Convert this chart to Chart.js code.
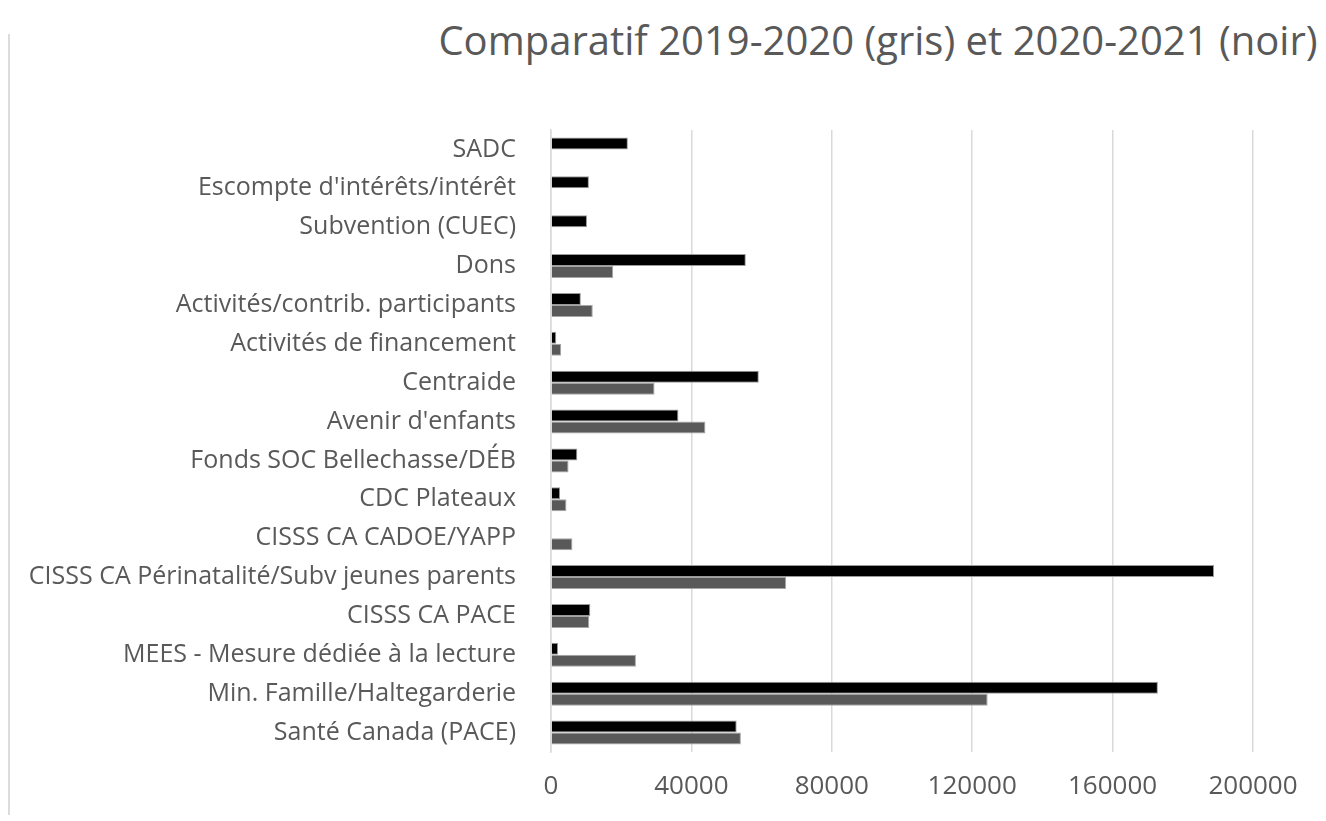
<!DOCTYPE html>
<html lang="fr">
<head>
<meta charset="utf-8">
<script src="https://cdn.jsdelivr.net/npm/chart.js@4/dist/chart.umd.min.js"></script>
<style>
  html, body { margin: 0; padding: 0; background: #fff; }
  #wrap { position: relative; width: 1326px; height: 821px; overflow: hidden; }
  #cadre { position: absolute; left: 8px; top: 34px; bottom: 6px; border-left: 2px solid #dcdcdc; }
  #titre {
    position: absolute; left: 378px; width: 1000px; top: 12px;
    text-align: center; font-family: "Open Sans", sans-serif; font-size: 40px;
    color: #595959; white-space: nowrap;
  }
  #chartBox { position: absolute; left: 0; top: 0; width: 1326px; height: 821px; }
</style>
</head>
<body>
<div id="wrap">
  <div id="cadre"></div>
  <div id="titre">Comparatif 2019-2020 (gris) et 2020-2021 (noir)</div>
  <div id="chartBox"><canvas id="graphique"></canvas></div>
</div>
<script>
// Catégories (de haut en bas)
const categories = [
  "SADC",
  "Escompte d'intérêts/intérêt",
  "Subvention (CUEC)",
  "Dons",
  "Activités/contrib. participants",
  "Activités de financement",
  "Centraide",
  "Avenir d'enfants",
  "Fonds SOC Bellechasse/DÉB",
  "CDC Plateaux",
  "CISSS CA CADOE/YAPP",
  "CISSS CA Périnatalité/Subv jeunes parents",
  "CISSS CA PACE",
  "MEES - Mesure dédiée à la lecture",
  "Min. Famille/Haltegarderie",
  "Santé Canada (PACE)"
];

// 2020-2021 (noir)
const valeurs2021 = [21900, 10800, 10250, 55500, 8500, 1500, 59200, 36300, 7500, 2600, 0, 188900, 11200, 2000, 172900, 52900];

// 2019-2020 (gris)
const valeurs2020 = [0, 0, 0, 17700, 11900, 2900, 29500, 44000, 5000, 4400, 6100, 67000, 10900, 24200, 124400, 54100];

const ticksX = [0, 40000, 80000, 120000, 160000, 200000];

const police = "'Open Sans', sans-serif";

const ctx = document.getElementById("graphique");

new Chart(ctx, {
  type: "bar",
  data: {
    labels: categories,
    datasets: [
      {
        label: "2020-2021",
        data: valeurs2021,
        backgroundColor: "#000000",
        borderColor: "#9a9a9a",
        borderWidth: 1,
        categoryPercentage: 0.62,
        barPercentage: 1.0,
      },
      {
        label: "2019-2020",
        data: valeurs2020,
        backgroundColor: "#595959",
        borderColor: "#a6a6a6",
        borderWidth: 1,
        categoryPercentage: 0.62,
        barPercentage: 1.0,
      },
    ],
  },
  options: {
    indexAxis: "y",
    responsive: true,
    maintainAspectRatio: false,
    animation: false,
    layout: { padding: { top: 130, right: 73, left: 0, bottom: 0 } },
    plugins: {
      legend: { display: false },
      title: { display: false },
      tooltip: { enabled: false },
    },
    scales: {
      x: {
        min: 0,
        max: 200000,
        afterBuildTicks: (scale) => {
          scale.ticks = ticksX.map((v) => ({ value: v }));
        },
        afterFit: (scale) => { scale.height = 69; },
        grid: { color: "#d9d9d9", lineWidth: 1.5, drawTicks: false },
        border: { display: false },
        ticks: {
          color: "#595959",
          font: { family: police, size: 26 },
          padding: 19,
          maxRotation: 0,
          callback: (v) => String(v),
        },
      },
      y: {
        afterFit: (scale) => { scale.width = 551; },
        grid: { display: false },
        border: { display: true, color: "#d9d9d9", width: 1.5 },
        ticks: {
          color: "#595959",
          font: { family: police, size: 25 },
          padding: 27,
          autoSkip: false,
        },
      },
    },
  },
});
</script>
</body>
</html>
